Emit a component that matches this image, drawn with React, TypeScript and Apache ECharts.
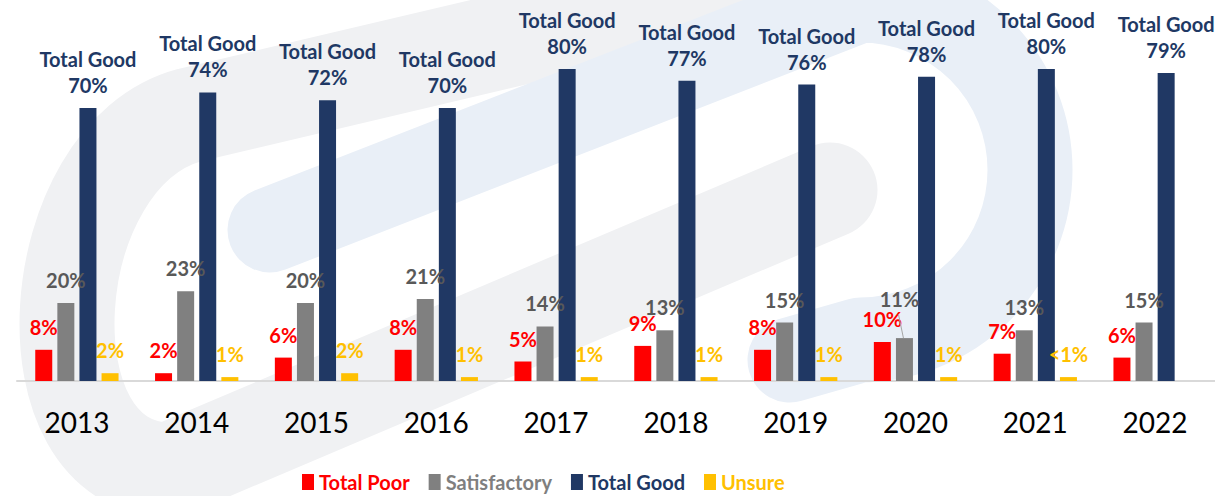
import React, { useEffect, useRef } from "react";
import * as echarts from "echarts";

const years = ["2013", "2014", "2015", "2016", "2017", "2018", "2019", "2020", "2021", "2022"];
const totalPoor = [8, 2, 6, 8, 5, 9, 8, 10, 7, 6];
const satisfactory = [20, 23, 20, 21, 14, 13, 15, 11, 13, 15];
const totalGood = [70, 74, 72, 70, 80, 77, 76, 78, 80, 79];
const unsure: (number | null)[] = [2, 1, 2, 1, 1, 1, 1, 1, 1, null];
const unsureText = ["2%", "1%", "2%", "1%", "1%", "1%", "1%", "1%", "<1%", ""];

const seriesNames = ["Total Poor", "Satisfactory", "Total Good", "Unsure"];
const barColors = ["#ff0000", "#808080", "#203864", "#ffc000"];
const labelColors = ["#ff0000", "#595959", "#203864", "#ffc000"];
const legendColors = ["#ff0000", "#7f7f7f", "#203864", "#ffc000"];

const FONT = "Lato, 'Open Sans', sans-serif";

let registered = false;
function registerShapes() {
  if (registered) return;
  registered = true;
  echarts.graphic.registerShape(
    "wmGray",
    echarts.graphic.extendPath("M 720 -10 L 190 115 C 40 155, 20 470, 170 470 L 830 190", {})
  );
  echarts.graphic.registerShape(
    "wmBlue",
    echarts.graphic.extendPath("M 270 230 L 860 0 A 170 170 0 0 1 860 340 L 790 360", {})
  );
}

export default function App() {
  const ref = useRef<HTMLDivElement>(null);
  useEffect(() => {
    if (!ref.current) return;
    registerShapes();
    const chart = echarts.init(ref.current, undefined, { renderer: "svg" });
    const mk = (i: number, data: any[], fmt: any, extra: any = {}) => ({
      name: seriesNames[i],
      type: "bar",
      data,
      barWidth: 17,
      barGap: "30%",
      itemStyle: { color: barColors[i] },
      label: {
        show: true,
        position: "top",
        distance: 13,
        color: labelColors[i],
        fontFamily: FONT,
        fontSize: 20,
        fontWeight: "bold",
        formatter: fmt,
      },
      ...extra,
    });
    chart.setOption({
      animation: false,
      graphic: [
        {
          id: "wm1",
          type: "wmGray",
          z: -10,
          silent: true,
          style: { fill: "none", stroke: "#f0f1f3", lineWidth: 95, lineCap: "round", lineJoin: "round" },
        },
        {
          id: "wm2",
          type: "wmBlue",
          z: -10,
          silent: true,
          style: { fill: "none", stroke: "#e9eff7", lineWidth: 85, lineCap: "round", lineJoin: "round" },
        },
      ],
      grid: { left: 17, right: 0, top: 30, bottom: 115, containLabel: false },
      legend: {
        left: 297,
        top: 467,
        itemWidth: 12,
        itemHeight: 16,
        itemGap: 19,
        icon: "rect",
        data: seriesNames.map((n, i) => ({
          name: n,
          textStyle: { color: legendColors[i], fontFamily: FONT, fontSize: 20, fontWeight: "bold" },
        })),
        textStyle: { fontFamily: FONT, fontSize: 20, fontWeight: "bold" },
      },
      xAxis: {
        type: "category",
        data: years,
        axisLine: { lineStyle: { color: "#d9d9d9", width: 2 } },
        axisTick: { show: false },
        axisLabel: { color: "#000", fontFamily: FONT, fontSize: 28, margin: 27 },
      },
      yAxis: { type: "value", min: 0, max: 90, show: false, splitLine: { show: false } },
      series: [
        mk(0, totalPoor, "{c}%"),
        mk(1, satisfactory, "{c}%", {
          labelLayout: (p: any) => (p.dataIndex === 7 ? { dx: -5, dy: -16 } : {}),
        }),
        mk(2, totalGood, "Total Good\n{c}%", {
          label: {
            show: true,
            position: "top",
            distance: 10,
            color: labelColors[2],
            fontFamily: FONT,
            fontSize: 20,
            fontWeight: "bold",
            lineHeight: 26,
            formatter: "Total Good\n{c}%",
          },
        }),
        mk(3, unsure, (p: any) => unsureText[p.dataIndex]),
      ],
    });
    // leader line for the displaced 2020 "Satisfactory" label, from the bar's own layout
    try {
      const data = (chart as any).getModel().getSeriesByIndex(1).getData();
      const lay = data.getItemLayout(7);
      if (lay) {
        const cx = lay.x + lay.width / 2;
        const top = Math.min(lay.y, lay.y + lay.height);
        chart.setOption({
          graphic: [
            {
              id: "leader",
              type: "line",
              z: 10,
              silent: true,
              shape: { x1: cx - 1, y1: top, x2: cx - 6, y2: top - 24 },
              style: { stroke: "#a6a6a6", lineWidth: 1 },
            },
          ],
        });
      }
    } catch (e) {}
    return () => chart.dispose();
  }, []);
  return (
    <div
      ref={ref}
      style={{ position: "fixed", left: 0, top: 0, width: 1215, height: 496, background: "#fff" }}
    />
  );
}
